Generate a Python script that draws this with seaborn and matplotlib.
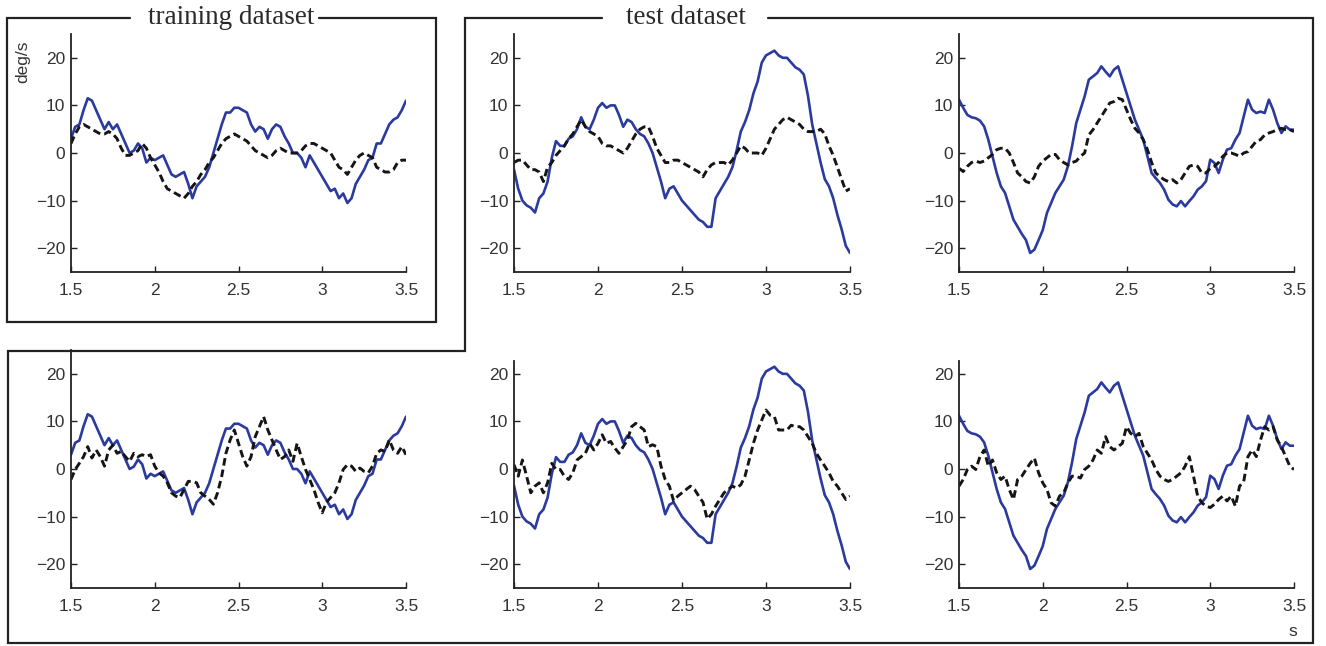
import numpy as np
import matplotlib
matplotlib.use("Agg")
import matplotlib.pyplot as plt
from matplotlib.lines import Line2D
import seaborn as sns

# sample times (s), one reading every 25 ms
time_s = np.round(np.arange(1.5, 3.5001, 0.025), 3)

# training signal (blue) and the two model outputs (black, dashed)
train_blue = [
    3, 5.5, 6, 9, 11.5, 11, 9, 7, 5, 6.5,
    5, 6, 4, 2, 0, 0.5, 2, 1, -2, -1,
    -1.5, -1, -0.5, -2.5, -4.5, -5, -4.5, -4, -6.5, -9.5,
    -7, -6, -5, -3, 0, 3, 6, 8.5, 8.5, 9.5,
    9.5, 9, 8.5, 6, 4.5, 5.5, 5, 3, 5, 6,
    5.5, 3.5, 2, 0, 0, -1, -3, -0.5, -2, -3.5,
    -5, -6.5, -8, -7.5, -9.5, -8.5, -10.5, -9.5, -6.5, -5,
    -3.5, -1.5, -1, 2, 2, 4, 6, 7, 7.5, 9, 11,
]
train_black_top = [
    2, 4, 5.5, 6, 5.5, 5, 4.5, 4, 4, 4.5,
    4, 3, 1, -0.5, -0.5, 0, 0.5, 2, 1, -1,
    -2.5, -4, -6, -7.5, -8, -8.5, -9, -9.5, -8.5, -7,
    -6, -4.5, -3.5, -2, -1, 0.5, 2, 3, 3.5, 4,
    3.5, 3, 2.5, 1.5, 0.5, 0, -0.5, -1, -0.5, 0.5,
    1, 0.5, 0, 0, 0, 0.5, 1.5, 2, 2, 1.5,
    1, 0.5, 0, -1.5, -3, -3.5, -4.5, -3, -1.5, -0.5,
    0, -0.5, -1, -3, -3.5, -4, -4, -3.5, -2, -1.5, -1.5,
]
train_black_bottom = [
    -2.2, -0.1, 1.2, 2.6, 4.7, 2.3, 4, 2.6, 0.6, 4,
    5, 3.3, 3.7, 2.6, 1.6, 3.3, 2.6, 3, 2.6, 3,
    0.6, -0.8, -1.5, -2.9, -5, -5.7, -6, -4.3, -2.6, -2.6,
    -2.9, -5, -5.7, -6.4, -7.4, -5, -1.5, 3.3, 6.1, 8.2,
    5.4, 2.6, 0.6, 2.6, 6.8, 8.9, 11, 8.2, 6.1, 4,
    2, 2.6, 4, 1.6, 5.4, 2.6, -0.1, -2.2, -4.3, -7,
    -9.2, -7, -6, -5, -2.9, -0.1, 0.9, 0.6, -0.5, 0.2,
    -0.5, -0.8, 0.6, 3.3, 4, 3.7, 6.1, 4, 3.3, 4.7, 3,
]

# first test signal
test1_blue = [
    -3.5, -7.5, -10, -11, -11.5, -12.5, -9.5, -8.5, -6, -1,
    2.5, 1.5, 1.5, 3, 3.5, 5, 7.5, 5.5, 5, 7,
    9.5, 10.5, 9.5, 10, 10, 8, 5.5, 7, 6.5, 5,
    4, 3.5, 2, 0, -3, -6, -9.5, -7.5, -7, -8.5,
    -10, -11, -12, -13, -14, -14.5, -15.5, -15.5, -9.5, -8,
    -6.5, -5, -3, 0.5, 4.5, 6.5, 9, 12.5, 15, 19,
    20.5, 21, 21.5, 20.5, 20, 20, 19, 18, 17.5, 16.5,
    12, 6, 2, -2, -5.5, -7, -9.5, -13, -16, -19.5, -21,
]
test1_black_top = [
    -2, -1.5, -1.5, -2.5, -3.5, -3.5, -4, -6, -3, -2,
    -0.5, 0.5, 1.5, 3, 4, 5.5, 7, 5.5, 4.5, 4,
    3.5, 2, 1.5, 1.5, 1, 0.5, 0, 1, 2.5, 4,
    5, 5.5, 5.5, 3.5, 1, -0.5, -2, -2, -1.5, -1.5,
    -2, -2.5, -3, -3.5, -4, -5, -3.5, -2.5, -2, -2,
    -2, -2.5, -1.5, 0, 1.5, 1, 0, 0, 0, -0.5,
    1, 3, 5, 6, 7, 7.5, 7, 6.5, 6, 5,
    4.5, 4.5, 4.5, 5, 4, 1.5, -0.5, -3, -5.5, -8, -7.5,
]
test1_black_bottom = [
    0.9, -1.5, 1.9, -1.5, -5, -3.6, -2.9, -5, -2.9, 1.2,
    -0.1, -0.1, -1.5, -2.2, -0.8, 1.9, 2.6, 3.3, 5.4, 4,
    5.4, 7.2, 5.4, 5.8, 4.4, 3.3, 4.7, 6.1, 8.9, 9.6,
    8.9, 8.2, 4.7, 5.1, 4.7, 0.6, -2.2, -3.6, -6.7, -5.7,
    -5, -4.3, -3.6, -4.3, -5.7, -7, -10.5, -9.5, -7.8, -6.4,
    -5, -4.3, -3.6, -4, -3.3, -1.5, 1.9, 5.4, 8.2, 10.3,
    12.4, 11.3, 11, 8.2, 8.2, 8.2, 9.2, 8.9, 8.9, 8.2,
    6.8, 5.4, 3.3, 1.9, 0.6, -0.8, -2.6, -3.6, -5, -6.4, -5.7,
]

# second test signal
test2_blue = [
    11.2, 9.5, 8, 7.5, 7.3, 6.8, 5.6, 2.8, -0.7, -4.2,
    -7, -8.4, -11.2, -14, -15.5, -17, -18.3, -21, -20.3, -18.3,
    -16.2, -12.6, -10.5, -8.4, -7, -5.6, -2.8, 1.4, 6.3, 9.1,
    11.9, 15.4, 16.1, 16.8, 18.2, 17.1, 16.1, 17.5, 18.2, 15.4,
    12.6, 9.8, 7, 4.9, 2.8, -0.7, -4.2, -5.3, -6.3, -7.7,
    -9.8, -10.8, -11.2, -10.1, -11.2, -10.1, -9.1, -7.7, -7, -5.9,
    -1.4, -2.1, -4.2, -1.4, 0.7, 1, 2.8, 4.2, 7.7, 11.2,
    9.1, 8.4, 8.7, 8.4, 11.2, 9.1, 6.3, 4.2, 5.6, 4.9, 4.9,
]
test2_black_top = [
    -3.2, -3.9, -2.8, -2, -1.7, -2, -1.7, -1, -0.3, 0.7,
    1, 1, 0, -2, -4.2, -5, -6, -6.3, -5, -2.8,
    -1.7, -1, -0.3, -0.3, -1.4, -2, -2.5, -2, -1.7, -0.7,
    0, 3.8, 4.9, 6.3, 7.7, 9.1, 10.5, 10.8, 11.5, 11.2,
    9.1, 7, 5.2, 4.2, 2.8, 0.7, -2, -4.2, -5, -5.6,
    -6, -5.6, -6.3, -5.6, -4.2, -2.8, -2.5, -2.8, -4.2, -4.2,
    -3.2, -2.8, -2, -0.7, 0, 0, -0.3, -0.7, 0, 0.3,
    1.4, 2.5, 2.8, 3.8, 4.2, 4.5, 4.9, 5.2, 4.9, 4.9, 4.5,
]
test2_black_bottom = [
    -3.6, -2.2, -0.1, 0.6, -0.1, 2.6, 4, 0.6, 1.9, -0.8,
    -2.2, -1.5, -4.3, -6.4, -2.2, -1.5, -0.1, 1.2, 2.3, -0.8,
    -2.9, -4.3, -7.1, -7.8, -5.7, -5, -2.9, -1.5, -1.5, -1.9,
    -0.1, 0.6, 1.9, 4, 3.3, 6.8, 4.7, 4, 4.7, 5.4,
    8.9, 7.5, 6.8, 7.5, 4.7, 3.3, 1.9, -0.1, -1.5, -2.2,
    -2.6, -2.2, -1.5, -0.8, 0.6, 2.6, -1.5, -5.7, -7.1, -7.8,
    -8.1, -7.4, -6.4, -5.7, -6.7, -5.7, -7.8, -3.6, -2.6, 2.6,
    4, 2.6, 6.1, 8.9, 8.2, 8.9, 6.1, 4.7, 2.6, 0.6, -0.1,
]

x_ticks = [1.5, 2, 2.5, 3, 3.5]
x_tick_labels = ["1.5", "2", "2.5", "3", "3.5"]
y_ticks = [-20, -10, 0, 10, 20]

W, H = 1326, 646
BLUE = "#2b3a9f"
INK = "#222222"

sns.set_style("ticks")
plt.rcParams["font.family"] = ["Liberation Sans", "DejaVu Sans"]

fig = plt.figure(figsize=(W / 100, H / 100), dpi=100)


def px_rect(x0, x1, y_top, y_bot):
    return [x0 / W, 1 - y_bot / H, (x1 - x0) / W, (y_bot - y_top) / H]


panels = [
    (px_rect(71, 406, 34, 272), train_blue, train_black_top, 25),
    (px_rect(514, 850, 34, 272), test1_blue, test1_black_top, 25),
    (px_rect(959, 1294, 34, 272), test2_blue, test2_black_top, 25),
    (px_rect(71, 406, 350, 588), train_blue, train_black_bottom, 25),
    (px_rect(514, 850, 361, 588), test1_blue, test1_black_bottom, 22.7),
    (px_rect(959, 1294, 361, 588), test2_blue, test2_black_bottom, 22.7),
]

for rect, blue, black, ytop in panels:
    ax = fig.add_axes(rect)
    sns.lineplot(x=time_s, y=blue, ax=ax, color=BLUE, lw=1.9)
    sns.lineplot(x=time_s, y=black, ax=ax, color="#151515", lw=2.1,
                 linestyle=(0, (2.6, 1.4)))
    ax.set_xlim(1.5, 3.5)
    ax.set_ylim(-25, ytop)
    ax.set_xticks(x_ticks)
    ax.set_xticklabels(x_tick_labels)
    ax.set_yticks(y_ticks)
    ax.tick_params(direction="in", length=4, width=1, colors=INK,
                   labelsize=12.5, labelcolor="#333333")
    ax.tick_params(axis="x", pad=8)
    ax.tick_params(axis="y", pad=4)
    sns.despine(ax=ax)
    for side in ("left", "bottom"):
        ax.spines[side].set_linewidth(1.3)
        ax.spines[side].set_color(INK)
    ax.set_xlabel("")
    ax.set_ylabel("")


def frame(points):
    xs = [p[0] / W for p in points]
    ys = [1 - p[1] / H for p in points]
    fig.add_artist(Line2D(xs, ys, color=INK, lw=1.6, solid_joinstyle="miter"))


# box around the training panel, with a gap for its title
frame([(130, 18), (7, 18), (7, 322), (436, 322), (436, 18), (319, 18)])
# L-shaped box around the test panels
frame([(602, 18), (465, 18), (465, 351), (8, 351), (8, 643),
       (1313, 643), (1313, 18), (768, 18)])

serif = ["Liberation Serif", "DejaVu Serif"]
fig.text(231 / W, 1 - 24 / H, "training dataset", ha="center", va="baseline",
         fontsize=19.5, family=serif, color="#2a2a2a")
fig.text(686 / W, 1 - 24 / H, "test dataset", ha="center", va="baseline",
         fontsize=19.5, family=serif, color="#2a2a2a")
fig.text(23 / W, 1 - 62 / H, "deg/s", ha="center", va="center", rotation=90,
         fontsize=12.5, color="#333333")
fig.text(1293 / W, 1 - 632 / H, "s", ha="center", va="center",
         fontsize=12.5, color="#333333")

fig.savefig("out.png", dpi=100)
